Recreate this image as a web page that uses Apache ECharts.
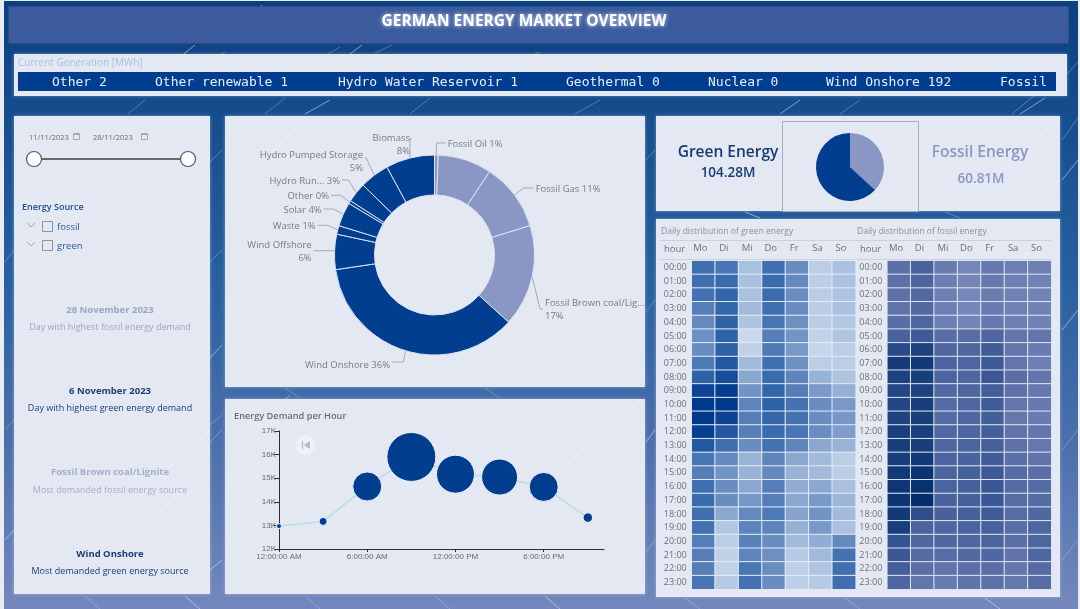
<!DOCTYPE html>
<html>
<head>
<meta charset="utf-8">
<title>German Energy Market Overview</title>
<style>
  html, body { margin: 0; padding: 0; background: #e9ecf2; }
  #main { width: 1080px; height: 609px; }
</style>
<script src="https://cdn.jsdelivr.net/npm/echarts@6/dist/echarts.min.js"></script>
</head>
<body>
<div id="main"></div>
<script type="text/javascript">
// ---- data ----
var sourceNames = ['Fossil Oil', 'Fossil Hard coal', 'Fossil Gas', 'Fossil Brown coal/Lignite', 'Wind Onshore', 'Wind Offshore', 'Waste', 'Solar', 'Other', 'Hydro Run-of-river', 'Hydro Pumped Storage', 'Biomass'];
var sourceShares = [0.6, 8.7, 11, 16.5, 36, 5.7, 1.4, 3.9, 0.5, 3.2, 4.8, 7.9];
var sourceLabels = ['Fossil Oil 1%', '', 'Fossil Gas 11%', 'Fossil Brown coal/Lig...\n17%', 'Wind Onshore 36%', 'Wind Offshore\n6%', 'Waste 1%', 'Solar 4%', 'Other 0%', 'Hydro Run... 3%', 'Hydro Pumped Storage\n5%', 'Biomass\n8%'];
var sourceKinds = ['fossil', 'fossil', 'fossil', 'fossil', 'green', 'green', 'green', 'green', 'green', 'green', 'green', 'green'];

var splitNames = ['Fossil Energy', 'Green Energy'];
var splitValues = [60.81, 104.28];

var demandHours = [0, 3, 6, 9, 12, 15, 18, 21];
var demandValues = [12970, 13170, 14650, 15900, 15170, 15050, 14630, 13330];
var demandWeights = [10, 16, 58, 98, 76, 72, 58, 19];

var tickerItems = ['Other 2', 'Other renewable 1', 'Hydro Water Reservoir 1', 'Geothermal 0', 'Nuclear 0', 'Wind Onshore 192', 'Fossil'];
var weekDays = ['Mo', 'Di', 'Mi', 'Do', 'Fr', 'Sa', 'So'];
var hourLabels = ['00:00', '01:00', '02:00', '03:00', '04:00', '05:00', '06:00', '07:00', '08:00', '09:00', '10:00', '11:00', '12:00', '13:00', '14:00', '15:00', '16:00', '17:00', '18:00', '19:00', '20:00', '21:00', '22:00', '23:00'];

var greenGrid = [
  [72, 68, 25, 72, 52, 15, 24],
  [72, 75, 25, 75, 55, 15, 24],
  [70, 78, 25, 75, 52, 16, 22],
  [62, 78, 28, 72, 52, 16, 24],
  [55, 80, 22, 68, 50, 16, 20],
  [50, 80, 8, 62, 48, 12, 22],
  [52, 80, 12, 65, 45, 10, 15],
  [65, 85, 28, 72, 50, 15, 15],
  [80, 90, 38, 75, 58, 32, 22],
  [95, 98, 48, 78, 62, 45, 33],
  [100, 100, 58, 80, 70, 52, 45],
  [100, 95, 62, 78, 70, 52, 46],
  [97, 85, 62, 75, 68, 52, 43],
  [85, 72, 52, 70, 58, 38, 32],
  [68, 55, 32, 58, 38, 28, 15],
  [62, 48, 32, 55, 32, 28, 15],
  [72, 52, 38, 62, 35, 38, 25],
  [75, 52, 46, 62, 38, 45, 30],
  [72, 38, 55, 65, 40, 48, 28],
  [70, 20, 58, 58, 33, 45, 24],
  [62, 15, 60, 52, 28, 35, 55],
  [62, 12, 58, 50, 18, 28, 70],
  [62, 12, 68, 52, 14, 22, 72],
  [68, 18, 70, 52, 14, 18, 72]
];
var fossilGrid = [
  [35, 55, 22, 12, 25, 20, 18],
  [35, 50, 20, 12, 25, 18, 16],
  [32, 45, 18, 10, 22, 16, 15],
  [30, 45, 18, 10, 22, 16, 15],
  [38, 50, 20, 14, 25, 18, 16],
  [55, 65, 38, 40, 48, 28, 28],
  [78, 85, 50, 48, 62, 28, 22],
  [90, 92, 52, 50, 66, 28, 20],
  [85, 88, 52, 50, 68, 38, 28],
  [82, 85, 45, 50, 60, 32, 25],
  [82, 88, 42, 48, 62, 28, 24],
  [85, 88, 42, 48, 60, 26, 22],
  [88, 88, 46, 50, 60, 30, 28],
  [88, 88, 48, 52, 58, 32, 26],
  [88, 92, 52, 54, 62, 36, 30],
  [92, 96, 52, 56, 66, 40, 38],
  [95, 98, 54, 58, 68, 42, 42],
  [95, 100, 54, 58, 68, 40, 42],
  [92, 75, 56, 58, 65, 40, 46],
  [88, 52, 48, 52, 56, 38, 48],
  [72, 48, 46, 48, 52, 36, 50],
  [68, 42, 40, 44, 46, 30, 48],
  [60, 36, 30, 36, 38, 26, 42],
  [48, 28, 22, 30, 34, 26, 38]
];

// ---- palette ----
var PANEL = '#e3e8f2';
var NAVY = '#023e8f';
var SLATE = '#8a96c3';
var FONT = '"Open Sans", "Noto Sans", sans-serif';

// ---- helpers for the dashboard furniture ----
function panel(x, y, w, h, fill, stroke) {
  var off = stroke ? 0.5 : 0;
  return { type: 'rect', silent: true, shape: { x: x + off, y: y + off, width: w, height: h },
    style: { fill: fill || PANEL, stroke: stroke || null, lineWidth: stroke ? 1 : 0 } };
}
function card(x, y, w, h) {
  var p = panel(x, y, w, h);
  p.style.shadowColor = 'rgba(215,228,250,0.45)';
  p.style.shadowBlur = 3;
  return p;
}
function txt(s, x, y, size, color, opt) {
  opt = opt || {};
  return { type: 'text', silent: true, x: x, y: y + 0.8, style: {
    text: s, fill: color, textAlign: opt.align || 'center', textVerticalAlign: 'middle',
    font: (opt.weight || 'normal') + ' ' + size + 'px ' + (opt.family || FONT),
    textShadowColor: opt.glow || 'transparent', textShadowBlur: opt.glow ? 4 : 0 } };
}
function seg(x1, y1, x2, y2, color, w) {
  return { type: 'line', silent: true, shape: { x1: x1, y1: y1, x2: x2, y2: y2 }, style: { stroke: color, lineWidth: w || 1 } };
}

// background streaks, purely decorative
var streaks = [
  [262, 5, 250, 20], [225, 52, 215, 58], [340, 47, 328, 54], [362, 45, 350, 54], [392, 45, 375, 53], [540, 52, 520, 60],
  [195, 45, 180, 57], [145, 100, 128, 114], [285, 98, 265, 114], [330, 100, 305, 114], [430, 98, 410, 114], [600, 100, 575, 114],
  [800, 100, 780, 114], [860, 100, 840, 114], [1035, 95, 1012, 114], [1045, 98, 1020, 114], [1078, 62, 1062, 80],
  [1078, 118, 1062, 140], [1078, 160, 1062, 180], [222, 150, 210, 162], [222, 250, 210, 262], [222, 345, 210, 358], [222, 430, 210, 442],
  [222, 415, 210, 425], [222, 560, 210, 570], [655, 150, 646, 160], [655, 300, 646, 312], [655, 430, 646, 442], [655, 540, 646, 552],
  [14, 420, 5, 430], [14, 530, 5, 540], [14, 250, 5, 262], [100, 609, 85, 596], [200, 609, 185, 596], [320, 609, 305, 596],
  [450, 609, 435, 596], [560, 609, 545, 596], [700, 609, 685, 598], [860, 609, 845, 598], [1000, 609, 985, 598], [1078, 430, 1062, 450],
  [1078, 540, 1062, 560], [1078, 310, 1062, 330], [300, 398, 285, 388], [500, 398, 485, 388], [760, 218, 745, 212], [960, 218, 945, 212]
];
// faint ones crossing the panels
var panelStreaks = [
  [210, 430, 130, 505], [205, 470, 150, 520], [300, 125, 232, 190], [640, 400, 560, 470], [1058, 225, 1000, 280], [1058, 120, 1000, 170], [290, 395, 232, 450]
];

var tickerX = [52, 155, 338, 566, 708, 826, 1000];
var graphics = [];
graphics.push({ type: 'rect', silent: true, shape: { x: 4, y: 1, width: 1074, height: 608 }, style: { fill: {
  type: 'linear', x: 0, y: 0, x2: 0, y2: 1, colorStops: [
    { offset: 0, color: '#0a3f80' }, { offset: 0.45, color: '#27609f' }, { offset: 0.75, color: '#4f71ad' }, { offset: 1, color: '#7488bd' }
  ] } } });
streaks.forEach(function (s, i) { graphics.push(seg(s[0], s[1], s[2], s[3], 'rgba(225,235,250,' + (i % 3 === 0 ? 0.55 : 0.3) + ')', 1)); });

// title band
graphics.push(panel(8, 6, 1060, 37, '#3c5b9d', '#2c4c8e'));
graphics.push(txt('GERMAN ENERGY MARKET OVERVIEW', 524, 21, 15.5, '#ffffff', { weight: 'bold', glow: '#dbe6ff' }));

// ticker
graphics.push(card(14, 54, 1053, 42));
graphics.push(txt('Current Generation [MWh]', 18, 62.5, 10, '#a9bfe3', { align: 'left' }));
graphics.push(panel(18, 72, 1038, 19, NAVY));
tickerItems.forEach(function (t, i) {
  graphics.push(txt(t, tickerX[i], 81.5, 13, '#e8eefb', { align: 'left', family: '"DejaVu Sans Mono", monospace' }));
});

// the other panels
graphics.push(card(14, 116, 196, 478));
graphics.push(card(225, 116, 420, 271));
graphics.push(card(225, 399, 420, 195));
graphics.push(card(656, 116, 404, 95));
graphics.push(panel(782, 121, 136, 90, PANEL, '#a8adb6'));
graphics.push(card(656, 219, 404, 378));
panelStreaks.forEach(function (s) { graphics.push(seg(s[0], s[1], s[2], s[3], 'rgba(255,255,255,0.4)', 1)); });

// date slicer
function calendar(x, y) {
  return [panel(x, y - 3, 6, 6, 'transparent', '#a3a8b2'), seg(x, y - 1.5, x + 7, y - 1.5, '#a3a8b2', 1)];
}
graphics.push(txt('11/11/2023', 29, 137, 7.5, '#666c78', { align: 'left' }));
graphics.push(txt('28/11/2023', 93, 137, 7.5, '#666c78', { align: 'left' }));
graphics = graphics.concat(calendar(73, 136), calendar(141, 136));
graphics.push(seg(35, 159, 188, 159, '#666a70', 2));
[34, 188].forEach(function (cx) {
  graphics.push({ type: 'circle', silent: true, shape: { cx: cx, cy: 159, r: 7.5 }, style: { fill: '#fbfcfe', stroke: '#555a60', lineWidth: 1.2 } });
});

// tree slicer
graphics.push(txt('Energy Source', 22, 207, 9, '#1f4e8c', { align: 'left', weight: '600' }));
[['fossil', 226], ['green', 245]].forEach(function (r) {
  graphics.push({ type: 'polyline', silent: true, shape: { points: [[27, r[1] - 3], [31, r[1] + 1], [35, r[1] - 3]] }, style: { fill: null, stroke: '#9aa4b5', lineWidth: 1 } });
  graphics.push(panel(42, r[1] - 5, 10, 10, 'transparent', '#8d939e'));
  graphics.push(txt(r[0], 57, r[1], 9.5, '#2b5a96', { align: 'left' }));
});

// callouts
[
  ['28 November 2023', 309, 'Day with highest fossil energy demand', 327, '#9aa5c6'],
  ['6 November 2023', 390, 'Day with highest green energy demand', 408, '#1c3e75'],
  ['Fossil Brown coal/Lignite', 471, 'Most demanded fossil energy source', 490, '#a4aecb'],
  ['Wind Onshore', 553, 'Most demanded green energy source', 571, '#1c3e75']
].forEach(function (c) {
  graphics.push(txt(c[0], 110, c[1], 9.5, c[4], { weight: 'bold' }));
  graphics.push(txt(c[2], 110, c[3], 9, c[4]));
});

// KPI texts
graphics.push(txt('Green Energy', 728, 152, 15.5, '#163c74', { weight: '600' }));
graphics.push(txt('104.28M', 728, 172, 13.5, '#163c74', { weight: '600' }));
graphics.push(txt('Fossil Energy', 980, 152, 15.5, SLATE, { weight: '600' }));
graphics.push(txt('60.81M', 981, 178, 13.5, SLATE, { weight: '600' }));

// heatmap headers
graphics.push(txt('Daily distribution of green energy', 661, 231, 8.5, '#8a8f99', { align: 'left' }));
graphics.push(txt('Daily distribution of fossil energy', 857, 231, 8.5, '#8a8f99', { align: 'left' }));
graphics.push(txt('hour', 664, 248, 9.5, '#6a7078', { align: 'left' }));
graphics.push(txt('hour', 860, 248, 9.5, '#6a7078', { align: 'left' }));
graphics.push(seg(660, 240.5, 855, 240.5, '#ccd2dc', 1), seg(856, 240.5, 1051, 240.5, '#ccd2dc', 1));
graphics.push(seg(660, 259.5, 855, 259.5, '#ccd2dc', 1), seg(856, 259.5, 1051, 259.5, '#ccd2dc', 1));

// line chart title and rewind button
graphics.push(txt('Energy Demand per Hour', 234, 415.5, 9.2, '#666b75', { align: 'left', weight: '600' }));
graphics.push({ type: 'circle', silent: true, shape: { cx: 305.5, cy: 445, r: 10 }, style: { fill: '#eef1f6' } });
graphics.push({ type: 'polygon', silent: true, shape: { points: [[310, 441], [310, 449], [303.5, 445]] }, style: { fill: '#b5bac3' } });
graphics.push(seg(302.5, 441, 302.5, 449, '#b5bac3', 1.2));

// ---- chart series data ----
function toCells(grid) {
  var cells = [];
  grid.forEach(function (row, h) {
    row.forEach(function (v, d) { cells.push([d, h, v]); });
  });
  return cells;
}

// where each pie label sits: text x, text y, side, leader y, leader elbow offset
var labelSpots = [
  [447.7, 144, 'left', 143, 0], null, [535.7, 189, 'left', 188, 9], [545, 309.7, 'left', 309, 8], [390, 365, 'right', 362, 2], [311.7, 251.7, 'right', 250.7, 0],
  [315.7, 226.3, 'right', 225.3, 10], [321.7, 210, 'right', 209, 10], [329, 196.3, 'right', 195.3, 9], [340, 181, 'right', 180, 8], [363, 162, 'right', 158, 8], [410, 145, 'right', 139, 0]
];

var sourceData = sourceNames.map(function (n, i) {
  var shown = sourceLabels[i] !== '';
  return {
    name: n, value: sourceShares[i],
    itemStyle: { color: sourceKinds[i] === 'green' ? NAVY : SLATE },
    label: { show: shown, formatter: sourceLabels[i] },
    labelLine: { show: shown }
  };
});

function heatGrid(left) {
  return { left: left, top: 260.7, width: 164, height: 328.6, containLabel: false };
}
function heatX(i) {
  return { type: 'category', gridIndex: i, position: 'top', data: weekDays, axisLine: { show: false }, axisTick: { show: false },
    axisLabel: { color: '#6a7078', fontSize: 9.5, fontFamily: FONT, margin: 7, padding: [0, 6, 0, 0] } };
}
function heatY(i) {
  return { type: 'category', gridIndex: i, inverse: true, data: hourLabels, axisLine: { show: false }, axisTick: { show: false },
    axisLabel: { color: '#6a7078', fontSize: 9, fontFamily: FONT, margin: 5, interval: 0 } };
}

var option = {
  animation: false,
  graphic: { elements: graphics },
  grid: [
    { left: 279, top: 431, width: 325, height: 118 },
    heatGrid(691.7),
    heatGrid(887.3)
  ],
  xAxis: [
    { type: 'value', gridIndex: 0, min: 0, max: 22.1, interval: 6, splitLine: { show: false },
      axisLine: { lineStyle: { color: '#2a2f36' } }, axisTick: { show: true, length: 3, lineStyle: { color: '#2a2f36' } },
      axisLabel: { color: '#666b75', fontSize: 8, fontFamily: '"Liberation Sans", sans-serif', margin: 4, showMaxLabel: false,
        formatter: function (h) {
          if (h === 0) return '12:00:00 AM';
          if (h === 12) return '12:00:00 PM';
          return h < 12 ? h + ':00:00 AM' : (h - 12) + ':00:00 PM';
        } } },
    heatX(1), heatX(2)
  ],
  yAxis: [
    { type: 'value', gridIndex: 0, min: 12000, max: 17000, interval: 1000, splitLine: { show: false },
      axisLine: { show: true, lineStyle: { color: '#2a2f36' } }, axisTick: { show: true, length: 5, lineStyle: { color: '#2a2f36' } },
      axisLabel: { color: '#666b75', fontSize: 8, fontFamily: '"Liberation Sans", sans-serif', margin: 3,
        formatter: function (v) { return (v / 1000) + 'K'; } } },
    heatY(1), heatY(2)
  ],
  visualMap: [
    { show: false, seriesIndex: 3, min: 0, max: 100, inRange: { color: ['#d8e3f2', '#a9c0de', '#6d90c2', '#3a6bad', '#003a8c'] } },
    { show: false, seriesIndex: 4, min: 0, max: 100, inRange: { color: ['#8391c0', '#5c71a8', '#3d5a96', '#052e6e'] } }
  ],
  series: [
    {
      type: 'pie', center: [434.5, 255], radius: [60, 100], startAngle: 90, clockwise: true,
      data: sourceData, avoidLabelOverlap: false, silent: true,
      itemStyle: { borderColor: '#dbe3f0', borderWidth: 1 },
      label: { color: '#777b84', fontSize: 9.5, fontFamily: FONT, lineHeight: 13 },
      labelLine: { length: 10, length2: 8, lineStyle: { color: '#a5a9b1', width: 1 } },
      labelLayout: function (p) {
        var s = labelSpots[p.dataIndex];
        if (!s) return {};
        var out = { x: s[0], y: s[1], align: s[2], verticalAlign: 'middle' };
        if (p.labelLinePoints) {
          var start = p.labelLinePoints[0];
          var dir = s[2] === 'left' ? 1 : -1;
          out.labelLinePoints = [start, [start[0] + dir * s[4], s[3]], [s[0] - dir * 2, s[3]]];
        }
        return out;
      }
    },
    {
      type: 'pie', center: [850, 167], radius: [0, 34], startAngle: 90, clockwise: true, silent: true,
      data: splitNames.map(function (n, i) { return { name: n, value: splitValues[i], itemStyle: { color: i === 0 ? SLATE : NAVY } }; }),
      label: { show: false }, labelLine: { show: false }
    },
    {
      type: 'line', xAxisIndex: 0, yAxisIndex: 0, silent: true,
      data: demandHours.map(function (h, i) { return [h, demandValues[i], demandWeights[i]]; }),
      symbol: 'circle', symbolSize: function (v) { return v[2] / 2; },
      lineStyle: { color: '#b8dede', width: 1.5 },
      itemStyle: { color: NAVY, borderColor: '#eef3f9', borderWidth: 1 }
    },
    {
      type: 'heatmap', xAxisIndex: 1, yAxisIndex: 1, silent: true, data: toCells(greenGrid),
      itemStyle: { borderColor: '#e3ebf6', borderWidth: 1 }
    },
    {
      type: 'heatmap', xAxisIndex: 2, yAxisIndex: 2, silent: true, data: toCells(fossilGrid),
      itemStyle: { borderColor: '#dfe6f3', borderWidth: 1 }
    }
  ]
};

var myChart = echarts.init(document.getElementById('main'), null, { renderer: 'canvas' });
myChart.setOption(option);
</script>
</body>
</html>
